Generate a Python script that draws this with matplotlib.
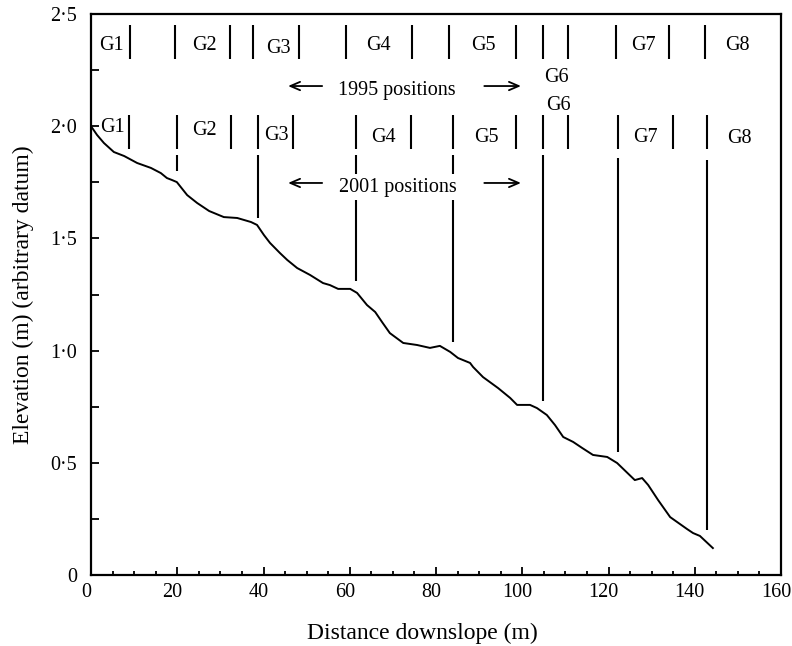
#!/usr/bin/env python3
"""Longitudinal profile with gauge positions 1995 / 2001."""
import matplotlib

matplotlib.use("Agg")
import matplotlib.pyplot as plt
from matplotlib.ticker import FixedLocator, MultipleLocator, FixedFormatter
import matplotlib.transforms as mtransforms

plt.rcParams["font.family"] = ["Liberation Serif", "DejaVu Serif"]

# ground profile (m)
profile_x = [0.0, 1.4, 3.0, 5.3, 7.7, 10.7, 13.9, 16.2, 17.6, 18.8, 19.9, 22.3, 24.6,
             27.4, 30.8, 33.9, 37.1, 38.5, 40.1, 41.5, 43.8, 45.5, 47.8, 50.8, 53.8,
             55.4, 57.3, 60.1, 61.7, 64.0, 65.9, 67.5, 69.3, 72.4, 75.6, 78.6, 80.9,
             83.3, 85.1, 87.9, 88.6, 90.9, 94.4, 97.2, 98.8, 101.8, 103.4, 105.7,
             107.6, 109.5, 111.8, 113.9, 116.4, 119.7, 122.0, 126.1, 127.8, 129.2,
             131.5, 134.3, 138.2, 139.6, 141.2, 144.2]
profile_y = [2.00, 1.961, 1.925, 1.885, 1.867, 1.836, 1.814, 1.791, 1.769, 1.760, 1.751,
             1.693, 1.658, 1.622, 1.595, 1.591, 1.573, 1.560, 1.515, 1.480, 1.435,
             1.404, 1.368, 1.337, 1.301, 1.292, 1.275, 1.275, 1.257, 1.203, 1.172,
             1.127, 1.078, 1.034, 1.025, 1.012, 1.021, 0.994, 0.967, 0.945, 0.927,
             0.882, 0.833, 0.789, 0.758, 0.758, 0.744, 0.713, 0.668, 0.615, 0.593,
             0.566, 0.535, 0.526, 0.499, 0.423, 0.432, 0.401, 0.334, 0.258, 0.205,
             0.187, 0.174, 0.120]

# gauge boundary marks
bars_1995_x = [9.0, 19.5, 32.2, 37.6, 48.2, 59.1, 74.4, 83.0, 98.6, 104.8, 110.6,
               121.7, 134.0, 142.4]
bars_2001_x = [8.8, 19.9, 32.5, 38.7, 46.8, 61.4, 74.2, 83.9, 98.6, 104.8, 110.6,
               122.2, 135.0, 142.8]
bars_1995_y = (2.30, 2.45)
bars_2001_y = (1.90, 2.05)

# lines dropped to the ground (2001)
drop_x = [19.9, 38.7, 61.4, 83.9, 104.8, 122.2, 142.8]
drop_top = [1.87, 1.87, 1.87, 1.87, 1.87, 1.86, 1.85]
drop_bottom = [1.80, 1.59, 1.31, 1.04, 0.775, 0.55, 0.20]

gauges = ["G1", "G2", "G3", "G4", "G5", "G6", "G7", "G8"]
lab_1995_x = [4.8, 26.2, 43.4, 66.6, 91.1, 108.0, 128.2, 149.8]
lab_1995_y = [2.340, 2.340, 2.328, 2.340, 2.340, 2.198, 2.340, 2.340]
lab_2001_x = [4.9, 26.2, 43.1, 67.7, 91.6, 108.3, 128.5, 150.3]
lab_2001_y = [1.976, 1.961, 1.939, 1.931, 1.931, 2.072, 1.931, 1.924]

yticks = [0, 0.5, 1.0, 1.5, 2.0, 2.5]
ytick_labels = ["0", "0·5", "1·0", "1·5", "2·0", "2·5"]
xticks = [0, 20, 40, 60, 80, 100, 120, 140, 160]

fig = plt.figure(figsize=(7.92, 6.46), dpi=100)
ax = fig.add_axes([91 / 792, 1 - 575 / 646, 690 / 792, 561 / 646])
k = "black"

ax.plot(profile_x, profile_y, color=k, lw=1.4, zorder=3)

ax.vlines(bars_1995_x, *bars_1995_y, color=k, lw=1.5)
ax.vlines(bars_2001_x, *bars_2001_y, color=k, lw=1.5)
ax.vlines(drop_x, drop_bottom, drop_top, color=k, lw=1.5, zorder=1)

fs = 14.5
for g, x, y in zip(gauges, lab_1995_x, lab_1995_y):
    ax.text(x, y, g, ha="center", va="baseline", fontsize=fs)
for g, x, y in zip(gauges, lab_2001_x, lab_2001_y):
    ax.text(x, y, g, ha="center", va="baseline", fontsize=fs)

ax.text(71.0, 2.139, "1995 positions", ha="center", va="baseline", fontsize=fs)
ax.text(71.2, 1.708, "2001 positions", ha="center", va="baseline", fontsize=fs,
        zorder=4, bbox=dict(facecolor="white", edgecolor="none", pad=2.5))

arrow = dict(arrowstyle="->,head_length=0.7,head_width=0.3", lw=1.3, color=k,
             shrinkA=0, shrinkB=0)
for ya in (2.179, 1.747):
    ax.annotate("", xy=(45.7, ya), xytext=(53.6, ya), arrowprops=arrow)
    ax.annotate("", xy=(99.7, ya), xytext=(91.2, ya), arrowprops=arrow)

ax.set_xlim(0, 160)
ax.set_ylim(0, 2.5)
ax.xaxis.set_major_locator(FixedLocator(xticks))
ax.xaxis.set_minor_locator(MultipleLocator(5))
ax.yaxis.set_major_locator(FixedLocator(yticks))
ax.yaxis.set_major_formatter(FixedFormatter(ytick_labels))
ax.yaxis.set_minor_locator(MultipleLocator(0.25))

for s in ax.spines.values():
    s.set_linewidth(1.6)
ax.tick_params(which="both", direction="in", top=False, right=False,
               labelsize=fs, width=1.3)
ax.tick_params(axis="x", which="major", length=6, pad=6)
ax.tick_params(axis="x", which="minor", length=3)
ax.tick_params(axis="y", which="both", length=6, pad=10)

offset = mtransforms.ScaledTranslation(-5 / 100, 0, fig.dpi_scale_trans)
for lab in ax.get_xticklabels():
    lab.set_transform(lab.get_transform() + offset)

ax.set_xlabel("Distance downslope (m)", fontsize=17)
ax.set_ylabel("Elevation (m) (arbitrary datum)", fontsize=17)
ax.xaxis.set_label_coords(0.48, -0.085)
ax.yaxis.set_label_coords(-0.083, 0.5)

plt.savefig("out.png", dpi=100, facecolor="white")
